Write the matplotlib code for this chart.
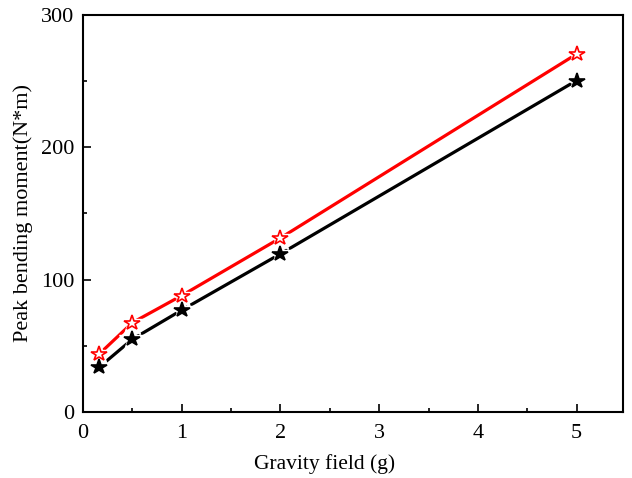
import matplotlib
matplotlib.use("Agg")
import matplotlib.pyplot as plt
from matplotlib.ticker import MultipleLocator

plt.rcParams['font.family'] = ['Liberation Serif', 'DejaVu Serif']
plt.rcParams['mathtext.fontset'] = 'stix'

gravity = [1/6, 0.5, 1, 2, 5]
red_series = [44, 67.5, 88, 131.5, 270.5]
black_series = [34, 55, 77, 119.5, 250.5]
xlabel = "Gravity field (g)"
ylabel = "Peak bending moment(N*m)"

fig = plt.figure(figsize=(6.32, 4.78), dpi=100)
ax = fig.add_axes([83/632, 1 - 412/478, (623-83)/632, (412-15)/478])

for ys, col, face in [(red_series, 'red', 'white'), (black_series, 'black', 'black')]:
    ax.plot(gravity, ys, color=col, lw=2.3, zorder=2)
    ax.plot(gravity, ys, ls='none', marker='*', ms=19, mfc='white', mec='white', zorder=3)
    ax.plot(gravity, ys, ls='none', marker='*', ms=11.5, mfc=face, mec=col, mew=1.2, zorder=4)

ax.set_xlim(0, 5.47)
ax.set_ylim(0, 300)
ax.xaxis.set_major_locator(MultipleLocator(1))
ax.xaxis.set_minor_locator(MultipleLocator(0.5))
ax.yaxis.set_major_locator(MultipleLocator(100))
ax.yaxis.set_minor_locator(MultipleLocator(50))
ax.tick_params(which='both', direction='in', labelsize=16, width=1.2)
ax.tick_params(which='major', length=6)
ax.tick_params(which='minor', length=3)
ax.tick_params(axis='x', pad=9)
ax.tick_params(axis='y', pad=6)
for s in ax.spines.values():
    s.set_linewidth(1.5)
ax.set_xlabel(xlabel, fontsize=15.5, labelpad=5)
ax.xaxis.set_label_coords(0.448, -0.105)
ax.set_ylabel(ylabel, fontsize=16, labelpad=6)

fig.savefig("out.png", dpi=100)
